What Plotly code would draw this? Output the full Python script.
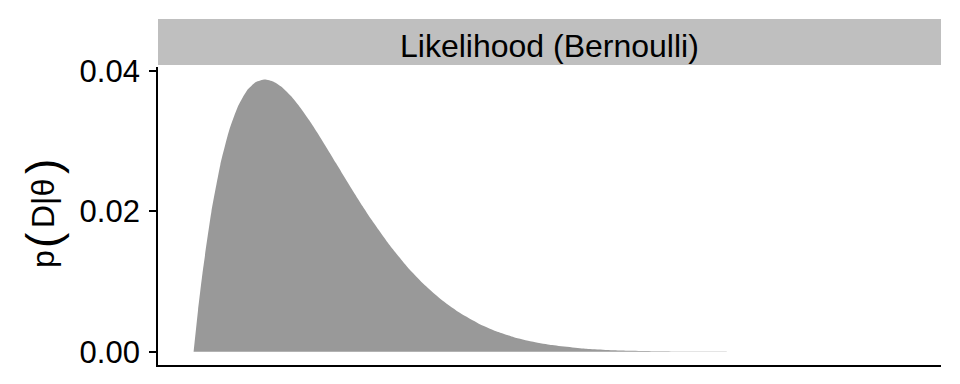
import plotly.graph_objects as go

# theta grid and Bernoulli likelihood values
theta = [0.0, 0.00625, 0.0125, 0.025, 0.0375, 0.05, 0.0625, 0.075, 0.0875, 0.1,
         0.1125, 0.125, 0.1375, 0.15, 0.1625, 0.175, 0.1875, 0.2, 0.2125, 0.225,
         0.2375, 0.25, 0.275, 0.3, 0.325, 0.35, 0.375, 0.4, 0.425, 0.45, 0.475,
         0.5, 0.55, 0.6, 0.65, 0.7, 0.75, 0.8, 0.9, 1.0]
likelihood = [0.0, 0.005907, 0.011162, 0.019905, 0.026585, 0.031512, 0.034964,
              0.037184, 0.038379, 0.038742, 0.038429, 0.037585, 0.036322, 0.034743,
              0.032940, 0.030982, 0.028935, 0.026844, 0.024748, 0.022693, 0.020692,
              0.018771, 0.015221, 0.012106, 0.009456, 0.007249, 0.005457, 0.004031,
              0.002920, 0.002073, 0.001439, 0.000977, 0.000416, 0.000157, 0.000051,
              0.000014, 0.0000029, 0.0000004, 0.0, 0.0]
y_ticks = [0.0, 0.02, 0.04]
y_ticktext = ["0.00", "0.02", "0.04"]
strip_label = "Likelihood (Bernoulli)"

FONT = "Liberation Sans, Arial, sans-serif"
W, H = 960, 384
L, R, T, B = 158, 19, 67, 19
ph = H - T - B
pw = W - L - R

fig = go.Figure()
fig.add_trace(go.Scatter(
    x=theta, y=likelihood, mode="lines", fill="tozeroy",
    line=dict(width=0, shape="spline", smoothing=0.5, color="#999999"),
    fillcolor="#999999", hoverinfo="skip", showlegend=False))

fig.update_layout(
    width=W, height=H,
    margin=dict(l=L, r=R, t=T, b=B),
    paper_bgcolor="white", plot_bgcolor="white",
    font=dict(family=FONT, color="black"),
    xaxis=dict(range=[-0.05, 1.05], showticklabels=False, ticks="",
               showgrid=False, zeroline=False, showline=True,
               linecolor="black", linewidth=1.7),
    yaxis=dict(range=[-0.001893, 0.040527], tickvals=y_ticks, ticktext=y_ticktext,
               ticks="outside", ticklen=7, tickwidth=1.7, tickcolor="black",
               ticklabelstandoff=3,
               showgrid=False, zeroline=False, showline=True,
               linecolor="black", linewidth=1.7,
               tickfont=dict(family=FONT, size=31, color="black")),
)

# facet strip
fig.add_shape(type="rect", xref="paper", yref="paper",
              x0=0, x1=1, y0=1 + 2 / ph, y1=1 + 48 / ph,
              fillcolor="#BFBFBF", line=dict(width=0), layer="below")
fig.add_annotation(text=strip_label, xref="paper", yref="paper",
                   x=0.5, y=1 + (T - 46) / ph,
                   xanchor="center", yanchor="middle", showarrow=False,
                   font=dict(family=FONT, size=32, color="black"))

# y-axis title p(D|θ), built like plotmath with taller brackets
title_parts = [("p", 32, 259), ("(", 46, 240), ("D|θ", 32, 204), (")", 46, 167)]
for txt, size, ypix in title_parts:
    fig.add_annotation(
        text=txt, xref="paper", yref="paper",
        x=(43 - L) / pw, y=(H - B - ypix) / ph,
        xanchor="center", yanchor="middle", textangle=-90, showarrow=False,
        font=dict(family=FONT, size=size, color="black"))

fig.write_html("out.html")
